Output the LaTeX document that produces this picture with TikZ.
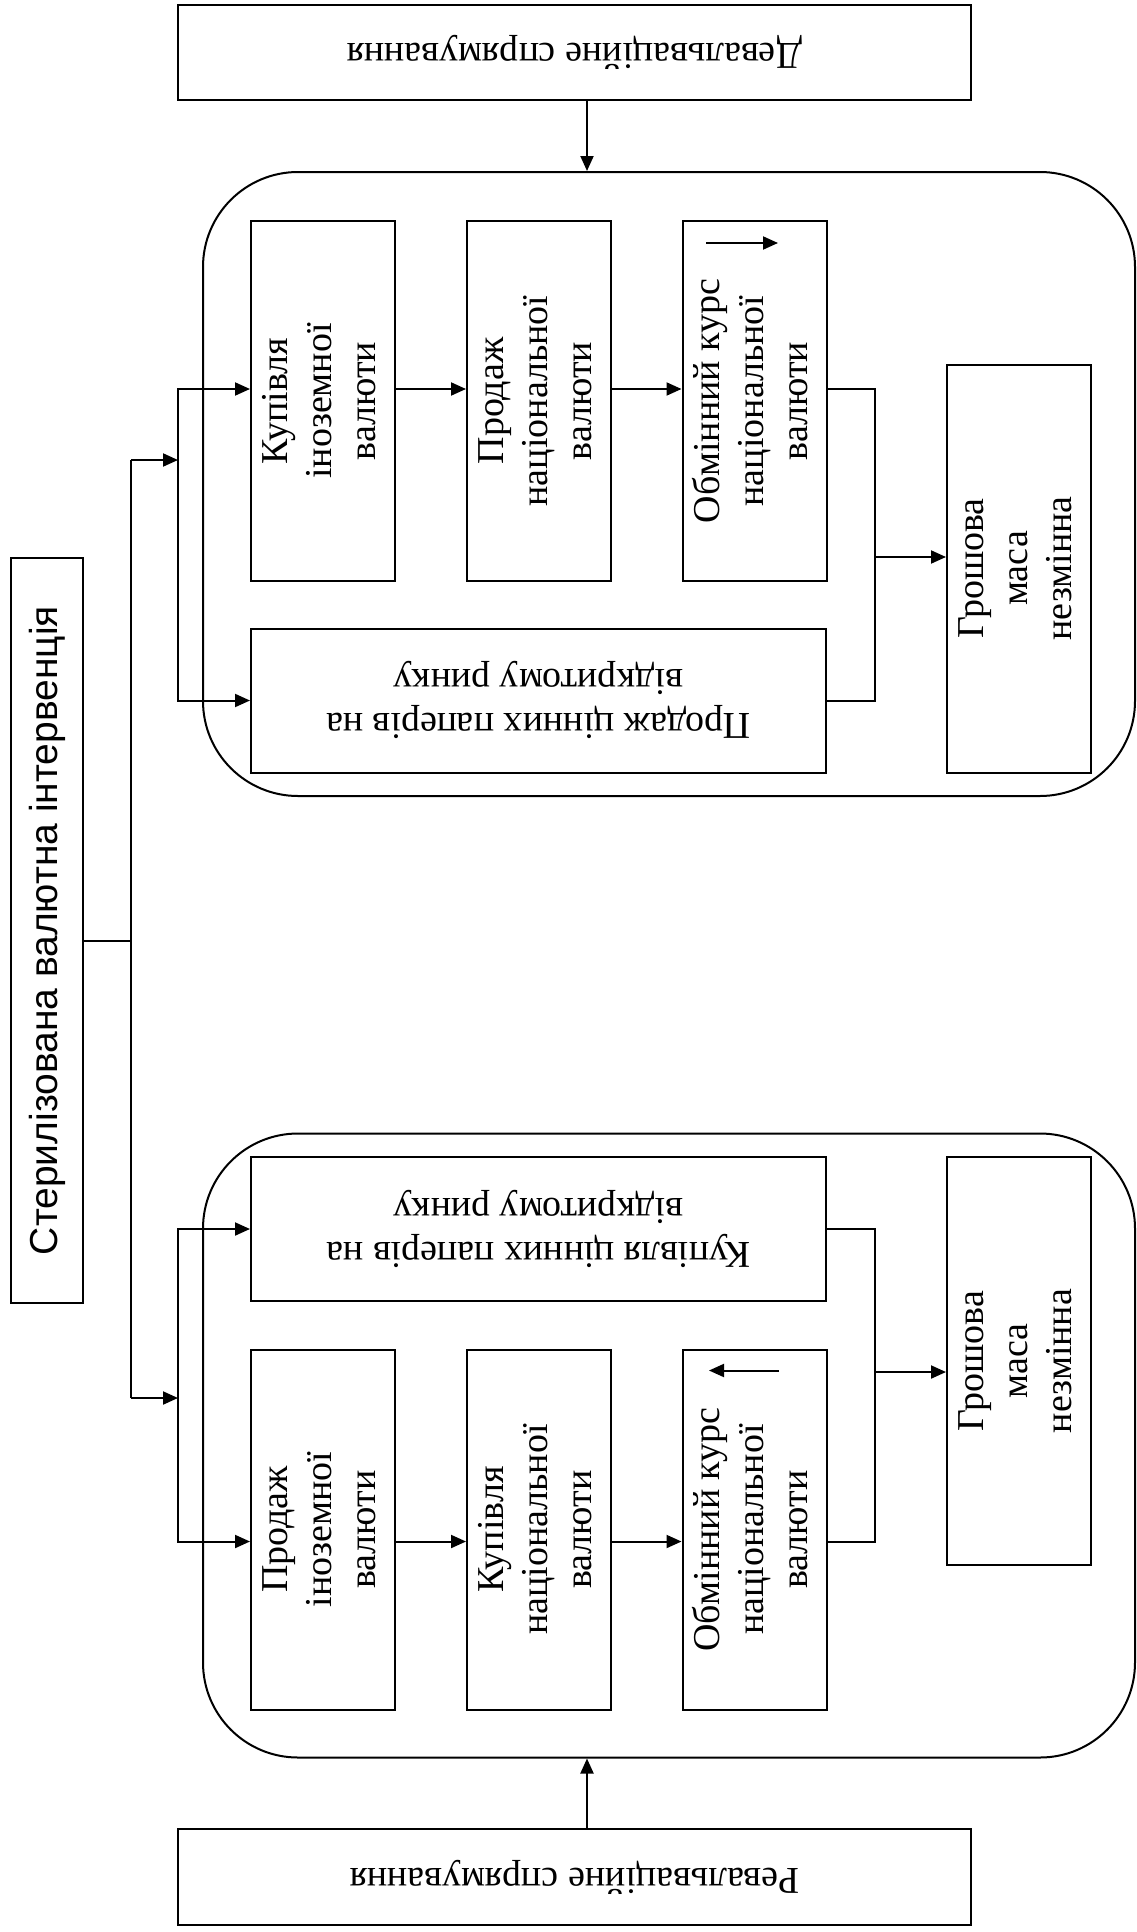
\documentclass[tikz,border=0pt]{standalone}
\usepackage{fontspec}
\setmainfont{Liberation Serif}
\newfontfamily\titlefont{Liberation Sans}
\usetikzlibrary{arrows.meta}
\newcommand{\vtext}[1]{\rotatebox{90}{\begin{tabular}{@{}c@{}}#1\end{tabular}}}
\newcommand{\utext}[1]{\rotatebox{180}{\begin{tabular}{@{}c@{}}#1\end{tabular}}}
\tikzset{
	blk/.style={draw, line width=2pt, inner sep=0pt, font=\fontsize{38}{44}\selectfont},
	vblk/.style={blk, minimum width=144pt, minimum height=360pt},
	hblk/.style={blk, minimum width=575pt, minimum height=144pt},
	mblk/.style={blk, minimum width=144pt, minimum height=408pt},
	panel/.style={draw, line width=2pt, rounded corners=95pt, minimum width=932pt, minimum height=624pt},
	ln/.style={line width=2pt},
	arr/.style={line width=2pt, -{Triangle[length=15pt,width=13pt]}}
}
\begin{document}
\begin{tikzpicture}[x=1pt,y=-1pt]
		\useasboundingbox (0,0) rectangle (1137,1932);
		\node[blk, minimum width=793pt, minimum height=95pt] (devbox) at (574.5,52.5) {\rotatebox{180}{Девальваційне спрямування}};
		\node[panel] (devpanel) at (669,484) {};
		\node[vblk] (d1) at (323,401) {\vtext{Купівля\\іноземної\\валюти}};
		\node[vblk] (d2) at (539,401) {\vtext{Продаж\\національної\\валюти}};
		\node[vblk] (d3) at (754.5,401) {\vtext{Обмінний курс\\національної\\валюти}};
		\node[hblk] (d4) at (538.5,700.5) {\utext{Продаж цінних паперів на\\відкритому ринку}};
		\node[mblk] (d5) at (1019,568.5) {\vtext{Грошова\\маса\\незмінна}};

		\node[blk, minimum width=72pt, minimum height=745pt, font=\titlefont\fontsize{39}{44}\selectfont] (ster) at (47,930.5) {\rotatebox{90}{Стерилізована валютна інтервенція}};

		\node[panel] (revpanel) at (669,1445.5) {};
		\node[hblk] (r4) at (538.5,1229) {\utext{Купівля цінних паперів на\\відкритому ринку}};
		\node[vblk] (r1) at (323,1529.5) {\vtext{Продаж\\іноземної\\валюти}};
		\node[vblk] (r2) at (539,1529.5) {\vtext{Купівля\\національної\\валюти}};
		\node[vblk] (r3) at (754.5,1529.5) {\vtext{Обмінний курс\\національної\\валюти}};
		\node[mblk] (r5) at (1019,1361) {\vtext{Грошова\\маса\\незмінна}};
		\node[blk, minimum width=793pt, minimum height=96pt] (revbox) at (574.5,1877) {\rotatebox{180}{Ревальваційне спрямування}};

		\coordinate (sp1) at (131,460); \coordinate (sp2) at (131,1398);
		\coordinate (dfork) at (178,460); \coordinate (rfork) at (178,1398);
		\coordinate (dmerge) at (875,557); \coordinate (rmerge) at (875,1372);

		\draw[arr] ([xshift=12.5pt]devbox.south) -- ([xshift=12.5pt]devbox.south |- devpanel.north);
		\draw[arr] ([xshift=12.5pt]revbox.north) -- ([xshift=12.5pt]revbox.north |- revpanel.south);

		\draw[ln] ([yshift=-10pt]ster.east) -- ([yshift=-10pt]ster.east -| sp1);
		\draw[ln] (sp1) -- (sp2);
		\draw[arr] (sp1) -- (dfork); \draw[arr] (sp2) -- (rfork);

		\draw[arr] (dfork) |- ([yshift=12pt]d1.west);
		\draw[arr] (dfork) |- (d4.west);
		\draw[arr] ([yshift=12pt]d1.east) -- ([yshift=12pt]d2.west);
		\draw[arr] ([yshift=12pt]d2.east) -- ([yshift=12pt]d3.west);
		\draw[ln] ([yshift=12pt]d3.east) -| (dmerge);
		\draw[ln] (d4.east) -| (dmerge);
		\draw[arr] (dmerge) -- (dmerge -| d5.west);
		\draw[arr] ([xshift=-48.5pt,yshift=-23pt]d3.north) -- ([xshift=23.5pt,yshift=-23pt]d3.north);

		\draw[arr] (rfork) |- (r4.west);
		\draw[arr] (rfork) |- ([yshift=-12pt]r1.west);
		\draw[arr] ([yshift=-12pt]r1.east) -- ([yshift=-12pt]r2.west);
		\draw[arr] ([yshift=-12pt]r2.east) -- ([yshift=-12pt]r3.west);
		\draw[ln] (r4.east) -| (rmerge);
		\draw[ln] ([yshift=-12pt]r3.east) -| (rmerge);
		\draw[arr] (rmerge) -- (rmerge -| r5.west);
		\draw[arr] ([xshift=24.5pt,yshift=-22pt]r3.north) -- ([xshift=-45.5pt,yshift=-22pt]r3.north);
	\end{tikzpicture}
\end{document}
